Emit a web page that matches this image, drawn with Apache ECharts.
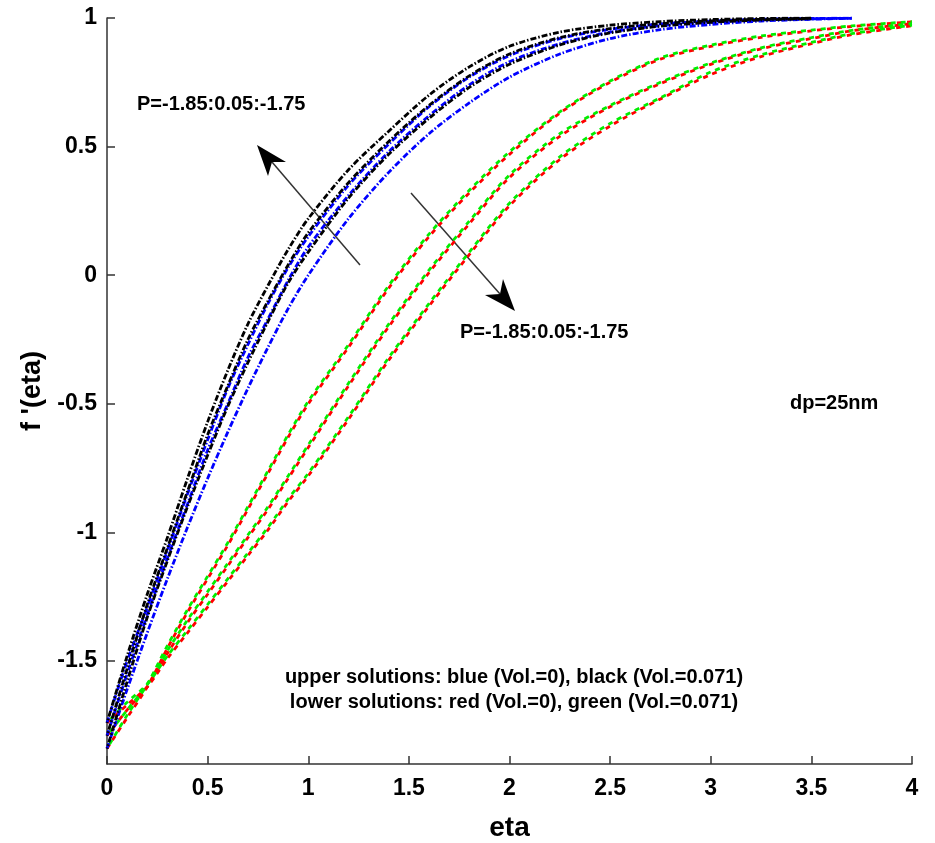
<!DOCTYPE html>
<html>
<head>
<meta charset="utf-8">
<script src="https://cdn.jsdelivr.net/npm/echarts@6/dist/echarts.min.js"></script>
<style>
  html, body { margin: 0; padding: 0; background: #fff; }
  #chart { width: 935px; height: 843px; }
</style>
</head>
<body>
<div id="chart"></div>
<script>
// eta grid shared by all curves (upper curves stop earlier)
const eta = [0, 0.1, 0.2, 0.3, 0.4, 0.5, 0.6, 0.7, 0.8, 0.9, 1.0, 1.2, 1.4, 1.6, 1.8, 2.0, 2.25, 2.5, 2.75, 3.0, 3.25, 3.5, 3.7, 4.0];

// upper solutions, black = Vol.=0.071, blue = Vol.=0
const black175 = [-1.74, -1.48, -1.24, -1.02, -0.79, -0.57, -0.37, -0.19, -0.04, 0.10, 0.22, 0.41, 0.56, 0.70, 0.81, 0.89, 0.945, 0.972, 0.986, 0.994, 0.998, 1.0];
const black180 = [-1.79, -1.53, -1.28, -1.06, -0.84, -0.62, -0.43, -0.25, -0.10, 0.04, 0.165, 0.36, 0.52, 0.66, 0.775, 0.86, 0.924, 0.959, 0.978, 0.989, 0.995, 0.999];
const black185 = [-1.84, -1.58, -1.33, -1.11, -0.90, -0.70, -0.51, -0.34, -0.18, -0.03, 0.09, 0.30, 0.47, 0.61, 0.73, 0.82, 0.895, 0.942, 0.968, 0.983, 0.992, 0.997];
const blue175 = [-1.74, -1.50, -1.29, -1.07, -0.85, -0.64, -0.44, -0.27, -0.11, 0.03, 0.15, 0.35, 0.51, 0.655, 0.77, 0.854, 0.92, 0.956, 0.977, 0.988, 0.995, 0.998, 1.0];
const blue180 = [-1.79, -1.55, -1.32, -1.10, -0.89, -0.68, -0.50, -0.32, -0.17, -0.02, 0.11, 0.31, 0.48, 0.62, 0.74, 0.83, 0.90, 0.945, 0.97, 0.984, 0.993, 0.997, 0.999];
const blue185 = [-1.84, -1.61, -1.39, -1.18, -0.98, -0.79, -0.61, -0.44, -0.28, -0.13, 0.0, 0.22, 0.40, 0.55, 0.67, 0.77, 0.86, 0.92, 0.955, 0.975, 0.988, 0.995, 0.999];

// lower solutions, red = Vol.=0, green = Vol.=0.071
const red185 = [-1.84, -1.72, -1.60, -1.45, -1.31, -1.18, -1.05, -0.91, -0.77, -0.63, -0.50, -0.28, -0.05, 0.15, 0.32, 0.47, 0.63, 0.75, 0.84, 0.89, 0.925, 0.95, 0.967, 0.985];
const red180 = [-1.79, -1.69, -1.60, -1.47, -1.35, -1.24, -1.13, -1.02, -0.91, -0.79, -0.67, -0.43, -0.20, 0.01, 0.20, 0.38, 0.54, 0.655, 0.745, 0.82, 0.88, 0.92, 0.95, 0.978];
const red175 = [-1.74, -1.67, -1.60, -1.49, -1.39, -1.29, -1.19, -1.09, -0.99, -0.88, -0.78, -0.56, -0.33, -0.12, 0.08, 0.27, 0.45, 0.58, 0.685, 0.78, 0.85, 0.90, 0.935, 0.97];
const green185 = [-1.84, -1.71, -1.59, -1.44, -1.30, -1.17, -1.04, -0.90, -0.76, -0.62, -0.49, -0.27, -0.04, 0.16, 0.33, 0.48, 0.635, 0.755, 0.845, 0.895, 0.93, 0.953, 0.969, 0.986];
const green180 = [-1.79, -1.69, -1.59, -1.46, -1.34, -1.23, -1.12, -1.01, -0.90, -0.78, -0.66, -0.42, -0.19, 0.02, 0.21, 0.39, 0.55, 0.66, 0.75, 0.825, 0.884, 0.924, 0.952, 0.979];
const green175 = [-1.74, -1.66, -1.59, -1.48, -1.38, -1.28, -1.18, -1.08, -0.98, -0.87, -0.77, -0.55, -0.32, -0.11, 0.09, 0.28, 0.46, 0.59, 0.69, 0.79, 0.857, 0.905, 0.939, 0.972];

const yTicks = [-1.5, -1, -0.5, 0, 0.5, 1];

const font = 'Liberation Sans, Arial, sans-serif';

function pairs(vals) {
  return vals.map((v, i) => [eta[i], v]);
}

function curve(name, vals, color, dash, offset, z) {
  return {
    name: name,
    type: 'line',
    data: pairs(vals),
    smooth: 0.3,
    showSymbol: false,
    z: z,
    lineStyle: { color: color, width: 2.8, type: dash, dashOffset: offset }
  };
}

const dashDot = [6, 2, 1.5, 2];
const dashed = [5, 5];

const option = {
  backgroundColor: '#fff',
  animation: false,
  grid: { left: 107, right: 23, top: 18, bottom: 79, outerBoundsMode: 'none' },
  xAxis: {
    type: 'value',
    min: 0, max: 4, interval: 0.5,
    name: 'eta',
    nameLocation: 'middle',
    nameGap: 50,
    nameTextStyle: { fontFamily: font, fontWeight: 'bold', fontSize: 28, color: '#000' },
    axisLine: { onZero: false, lineStyle: { color: '#333', width: 1.5 } },
    axisTick: { inside: true, length: 8, lineStyle: { color: '#333', width: 1.5 } },
    axisLabel: { margin: 13, fontFamily: font, fontWeight: 'bold', fontSize: 23, color: '#000' },
    splitLine: { show: false }
  },
  yAxis: {
    type: 'value',
    min: -1.9, max: 1,
    name: "f '(eta)",
    nameLocation: 'middle',
    nameGap: 54,
    nameTextStyle: { fontFamily: font, fontWeight: 'bold', fontSize: 27, color: '#000' },
    axisLine: { show: true, onZero: false, lineStyle: { color: '#333', width: 1.5 } },
    axisTick: { show: true, inside: true, length: 8, customValues: yTicks, lineStyle: { color: '#333', width: 1.5 } },
    axisLabel: { margin: 10, customValues: yTicks, fontFamily: font, fontWeight: 'bold', fontSize: 23, color: '#000' },
    splitLine: { show: false }
  },
  series: [
    curve('red -1.85', red185, '#ff0000', dashed, 0, 2),
    curve('red -1.80', red180, '#ff0000', dashed, 0, 2),
    curve('red -1.75', red175, '#ff0000', dashed, 0, 2),
    curve('green -1.85', green185, '#00ee00', dashed, 5, 3),
    curve('green -1.80', green180, '#00ee00', dashed, 5, 3),
    curve('green -1.75', green175, '#00ee00', dashed, 5, 3),
    curve('blue -1.75', blue175, '#0000ff', dashDot, 0, 4),
    curve('blue -1.80', blue180, '#0000ff', dashDot, 0, 4),
    curve('blue -1.85', blue185, '#0000ff', dashDot, 0, 4),
    curve('black -1.75', black175, '#000000', dashDot, 5, 5),
    curve('black -1.80', black180, '#000000', dashDot, 5, 5),
    curve('black -1.85', black185, '#000000', dashDot, 5, 5)
  ],
  graphic: [
    { type: 'text', x: 137, y: 104, style: { text: 'P=-1.85:0.05:-1.75', fontFamily: font, fontWeight: 'bold', fontSize: 20, fill: '#000', textVerticalAlign: 'middle' } },
    { type: 'line', shape: { x1: 360, y1: 265, x2: 272, y2: 162 }, style: { stroke: '#333', lineWidth: 1.5 } },
    { type: 'polygon', shape: { points: [[257, 145], [286, 162], [272, 162], [268, 176]] }, style: { fill: '#000' } },
    { type: 'line', shape: { x1: 411, y1: 193, x2: 500, y2: 294 }, style: { stroke: '#333', lineWidth: 1.5 } },
    { type: 'polygon', shape: { points: [[515, 311], [485, 295], [500, 294], [503, 279]] }, style: { fill: '#000' } },
    { type: 'text', x: 460, y: 332, style: { text: 'P=-1.85:0.05:-1.75', fontFamily: font, fontWeight: 'bold', fontSize: 20, fill: '#000', textVerticalAlign: 'middle' } },
    { type: 'text', x: 790, y: 403, style: { text: 'dp=25nm', fontFamily: font, fontWeight: 'bold', fontSize: 20, fill: '#000', textVerticalAlign: 'middle' } },
    { type: 'text', x: 514, y: 677, style: { text: 'upper solutions: blue (Vol.=0), black (Vol.=0.071)', fontFamily: font, fontWeight: 'bold', fontSize: 20, fill: '#000', textAlign: 'center', textVerticalAlign: 'middle' } },
    { type: 'text', x: 514, y: 702, style: { text: 'lower solutions: red (Vol.=0), green (Vol.=0.071)', fontFamily: font, fontWeight: 'bold', fontSize: 20, fill: '#000', textAlign: 'center', textVerticalAlign: 'middle' } }
  ]
};

const myChart = echarts.init(document.getElementById('chart'));
myChart.setOption(option);
window.addEventListener('resize', function () {
  myChart.resize();
});
</script>
</body>
</html>
